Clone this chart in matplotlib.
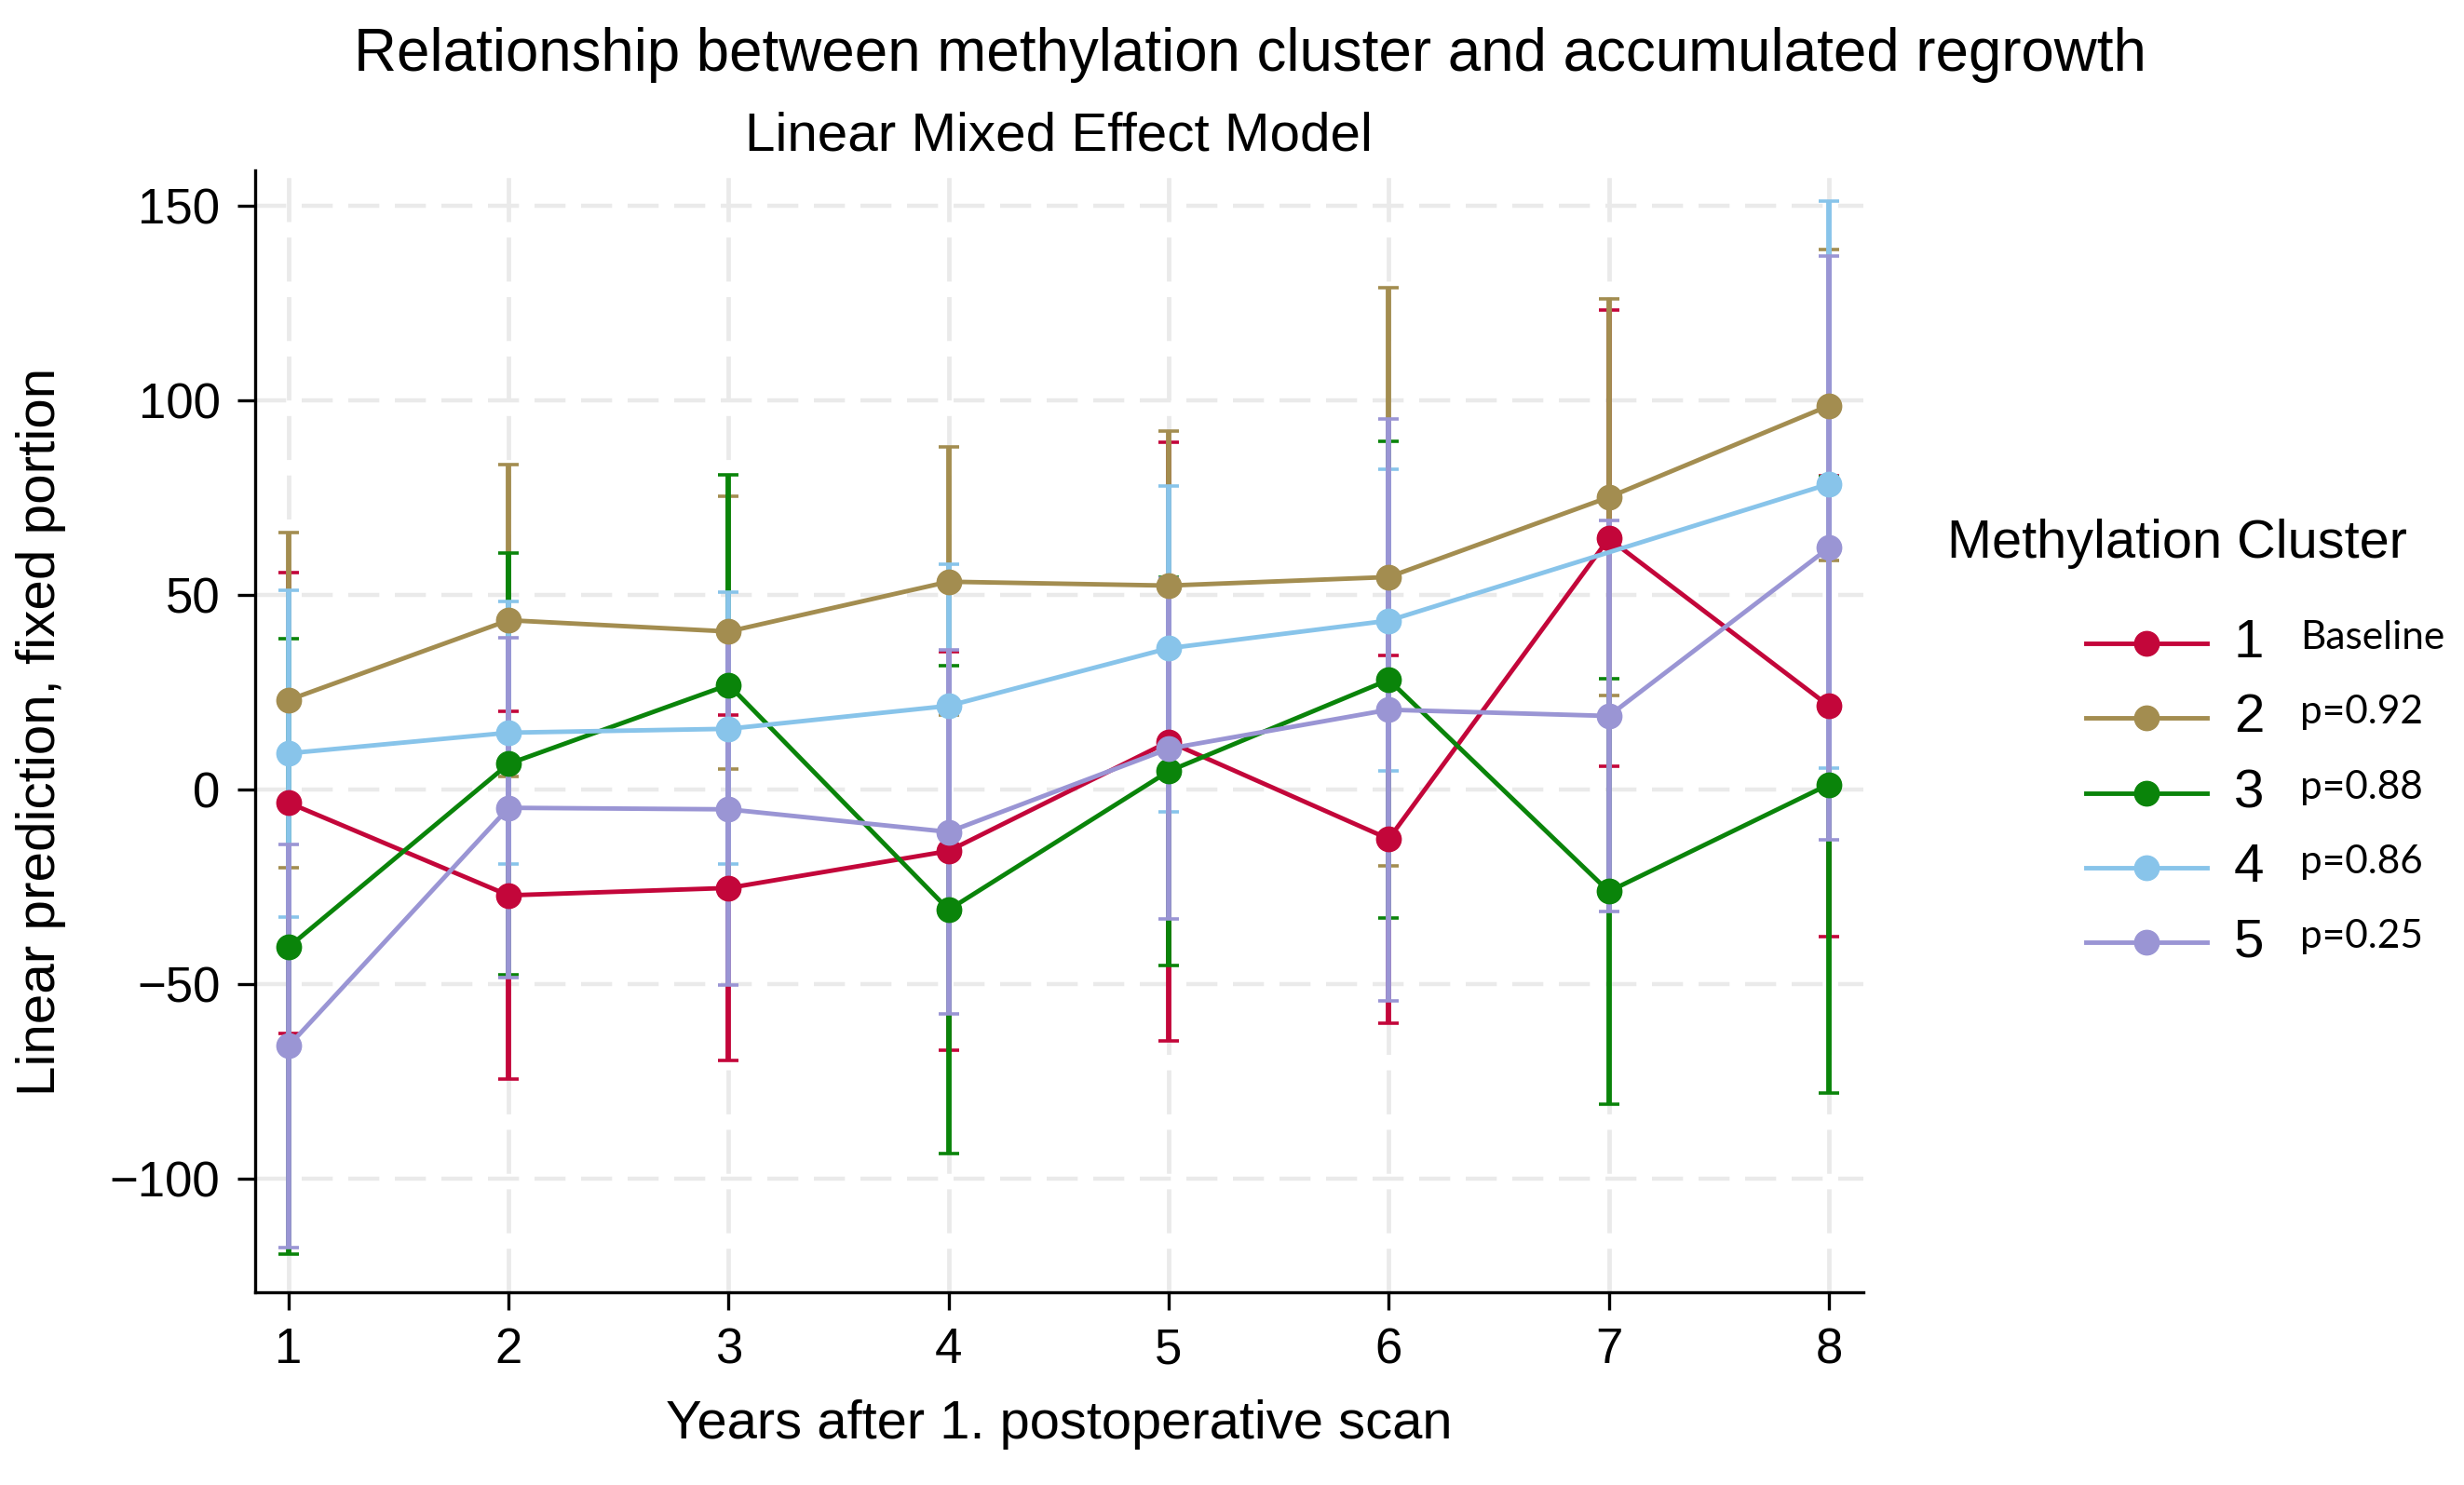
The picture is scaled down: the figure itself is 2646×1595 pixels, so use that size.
import numpy as np
import matplotlib.pyplot as plt
from matplotlib.lines import Line2D

plt.rcParams['font.family'] = ['Liberation Sans', 'DejaVu Sans']
plt.rcParams['lines.scale_dashes'] = False

# data (blue has no estimate in year 7)
years = [1, 2, 3, 4, 5, 6, 7, 8]
clusters = ["1", "2", "3", "4", "5"]
pvals = ["Baseline", "p=0.92", "p=0.88", "p=0.86", "p=0.25"]
colors = ["#C3063A", "#A38D50", "#0A840A", "#88C4EA", "#9A95D4"]

c1_mean = [-3.5, -27.3, -25.4, -15.9, 12.2, -12.8, 64.4, 21.4]
c1_lo = [-62.7, -74.5, -69.8, -67.1, -64.8, -60.2, 5.8, -37.8]
c1_hi = [55.6, 19.9, 19.1, 35.3, 89.1, 34.4, 123.0, 80.6]

c2_mean = [22.9, 43.4, 40.5, 53.3, 52.3, 54.5, 75.0, 98.5]
c2_lo = [-20.1, 3.2, 5.2, 19.1, 12.6, -19.7, 24.0, 58.7]
c2_hi = [66.0, 83.5, 75.3, 87.9, 92.0, 128.8, 126.0, 138.6]

c3_mean = [-40.6, 6.5, 26.8, -31.0, 4.6, 28.1, -26.3, 1.2]
c3_lo = [-119.5, -47.8, -27.2, -93.7, -45.3, -33.1, -80.9, -78.0]
c3_hi = [38.6, 60.6, 80.8, 31.7, 54.4, 89.4, 28.3, 80.3]

c4_mean = [9.2, 14.5, 15.5, 21.4, 36.2, 43.3, np.nan, 78.4]
c4_lo = [-32.9, -19.3, -19.3, -15.1, -5.9, 4.6, np.nan, 5.5]
c4_hi = [51.2, 48.2, 50.5, 57.9, 78.0, 82.2, np.nan, 151.2]

c5_mean = [-66.0, -4.8, -5.2, -11.0, 10.4, 20.4, 18.8, 62.0]
c5_lo = [-117.9, -48.4, -50.3, -57.7, -33.3, -54.5, -31.5, -13.0]
c5_hi = [-14.3, 38.8, 39.9, 35.7, 54.1, 95.2, 69.1, 137.0]

means = [c1_mean, c2_mean, c3_mean, c4_mean, c5_mean]
lows = [c1_lo, c2_lo, c3_lo, c4_lo, c5_lo]
highs = [c1_hi, c2_hi, c3_hi, c4_hi, c5_hi]

W, H = 2646, 1595


def fx(px):
    return px / W


def fy(py):
    return 1 - py / H


fig = plt.figure(figsize=(W / 100, H / 100), dpi=100)
ax = fig.add_axes([fx(274), fy(1388), fx(2001 - 274), (1388 - 183) / H])

x = np.array(years, dtype=float)

# confidence intervals first, then the connected lines on top
for i in range(len(clusters)):
    m = np.array(means[i])
    lo = np.array(lows[i])
    hi = np.array(highs[i])
    ok = ~np.isnan(m)
    ax.errorbar(x[ok], m[ok], yerr=[m[ok] - lo[ok], hi[ok] - m[ok]], fmt="none",
                ecolor=colors[i], elinewidth=4.2, capsize=8, capthick=2.6,
                zorder=2 + i * 0.1)
for i in range(len(clusters)):
    m = np.array(means[i])
    ok = ~np.isnan(m)
    ax.plot(x[ok], m[ok], color=colors[i], lw=3.5, marker="o", ms=19,
            zorder=5 + i * 0.1)

ax.set_xlim(0.848, 8.157)
ax.set_ylim(-129.3, 159.0)
ax.set_xticks(years)
ax.set_yticks([-100, -50, 0, 50, 100, 150])

for v in [-100, -50, 0, 50, 100, 150]:
    ax.axhline(v, color="#EAEAEA", lw=3.2, ls=(0, (24, 12)), zorder=0)
for v in years:
    ax.axvline(v, color="#EAEAEA", lw=3.4, ls=(0, (34, 12)), zorder=0)

ax.spines["top"].set_visible(False)
ax.spines["right"].set_visible(False)
ax.spines["left"].set_linewidth(2.4)
ax.spines["bottom"].set_linewidth(2.4)
ax.tick_params(axis="both", labelsize=38, length=14, width=2.4, pad=13)

ax.set_ylabel("Linear prediction, fixed portion", fontsize=42, va="center")
ax.yaxis.set_label_coords((44 - 274) / (2001 - 274), 0.5)
ax.set_xlabel("Years after 1. postoperative scan", fontsize=41.7, va="center")
ax.xaxis.set_label_coords(0.5, -(1530 - 1388) / (1388 - 183))

fig.text(fx(1342), fy(59), "Relationship between methylation cluster and accumulated regrowth",
         fontsize=45.8, ha="center", va="center")
fig.text(fx(1137), fy(146), "Linear Mixed Effect Model", fontsize=42, ha="center", va="center")

# legend drawn by hand so the p-values line up with the keys
fig.text(fx(2091), fy(584), "Methylation Cluster", fontsize=41.5, ha="left", va="center")
row_y = [691, 771, 852, 932, 1012]
for i in range(len(clusters)):
    yy = fy(row_y[i])
    fig.add_artist(Line2D([fx(2240), fx(2370)], [yy, yy], transform=fig.transFigure,
                          color=colors[i], lw=3.5))
    fig.add_artist(Line2D([fx(2305)], [yy], transform=fig.transFigure,
                          color=colors[i], marker="o", ms=19, lw=0))
    fig.text(fx(2415), yy, clusters[i], fontsize=42, ha="center", va="center")
    fig.text(fx(2470), yy + 0.004, pvals[i], fontsize=30.5, ha="left", va="center",
             family=["Lato", "DejaVu Sans"])

fig.savefig("out.png", dpi=100, facecolor="white")
